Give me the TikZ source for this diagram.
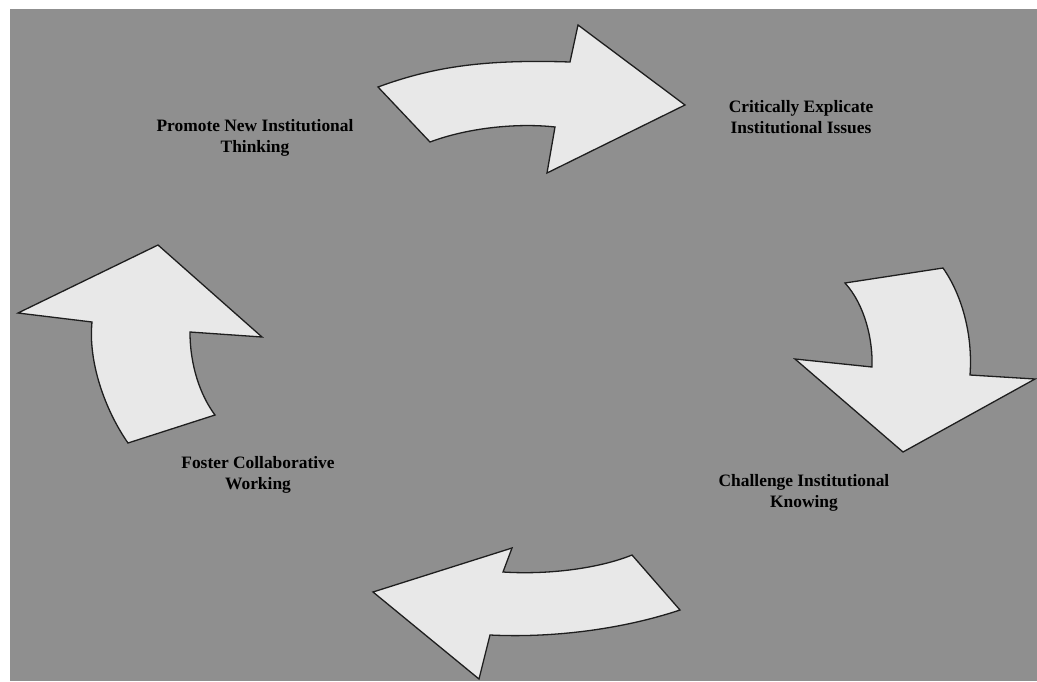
\documentclass[tikz,border=0pt]{standalone}
\usepackage{fontspec}
\setmainfont{Liberation Serif}
\begin{document}
\begin{tikzpicture}[x=1pt,y=-1pt,
  bigarrow/.style={fill=arrowfill,draw=arrowline,line width=1.3pt,line join=miter},
  phase/.style={font=\fontsize{17.4}{20.5}\selectfont\bfseries,align=center,text=black,inner sep=0pt}]
\definecolor{panel}{RGB}{143,143,143}
\definecolor{arrowfill}{RGB}{232,232,232}
\definecolor{arrowline}{RGB}{30,30,30}
\useasboundingbox (0,0) rectangle (1037,681);
\fill[white] (0,0) rectangle (1037,681);
\fill[panel] (10,9) rectangle (1037,681);

% top arrow, pointing right
\draw[bigarrow] (378,87) .. controls (430,68) and (480,59) .. (570,62)
  -- (578,25) -- (685,105) -- (547,173) -- (555,127)
  .. controls (520,123) and (470,127) .. (430,142) -- cycle;

% right arrow, pointing down
\draw[bigarrow] (845,283) -- (943,268) .. controls (962,295) and (973,335) .. (970,375)
  -- (1035,379) -- (903,452) -- (795,359) -- (872,367)
  .. controls (873,340) and (865,305) .. (845,283) -- cycle;

% bottom arrow, pointing left
\draw[bigarrow] (373,592) -- (512,548) -- (503,572)
  .. controls (550,575) and (600,568) .. (632,555) -- (680,610)
  .. controls (620,630) and (550,638) .. (490,635) -- (479,679) -- cycle;

% left arrow, pointing up
\draw[bigarrow] (158,245) -- (262,337) -- (190,332)
  .. controls (190,365) and (200,395) .. (215,415) -- (128,443)
  .. controls (105,410) and (88,362) .. (92,322) -- (18,313) -- cycle;

\node[phase] (promote) at (255,138) {Promote New Institutional\\Thinking};
\node[phase] (explicate) at (801,117) {Critically Explicate\\Institutional Issues};
\node[phase] (challenge) at (804,493) {Challenge Institutional\\Knowing};
\node[phase] (foster) at (258,475) {Foster Collaborative\\Working};
\end{tikzpicture}
\end{document}
